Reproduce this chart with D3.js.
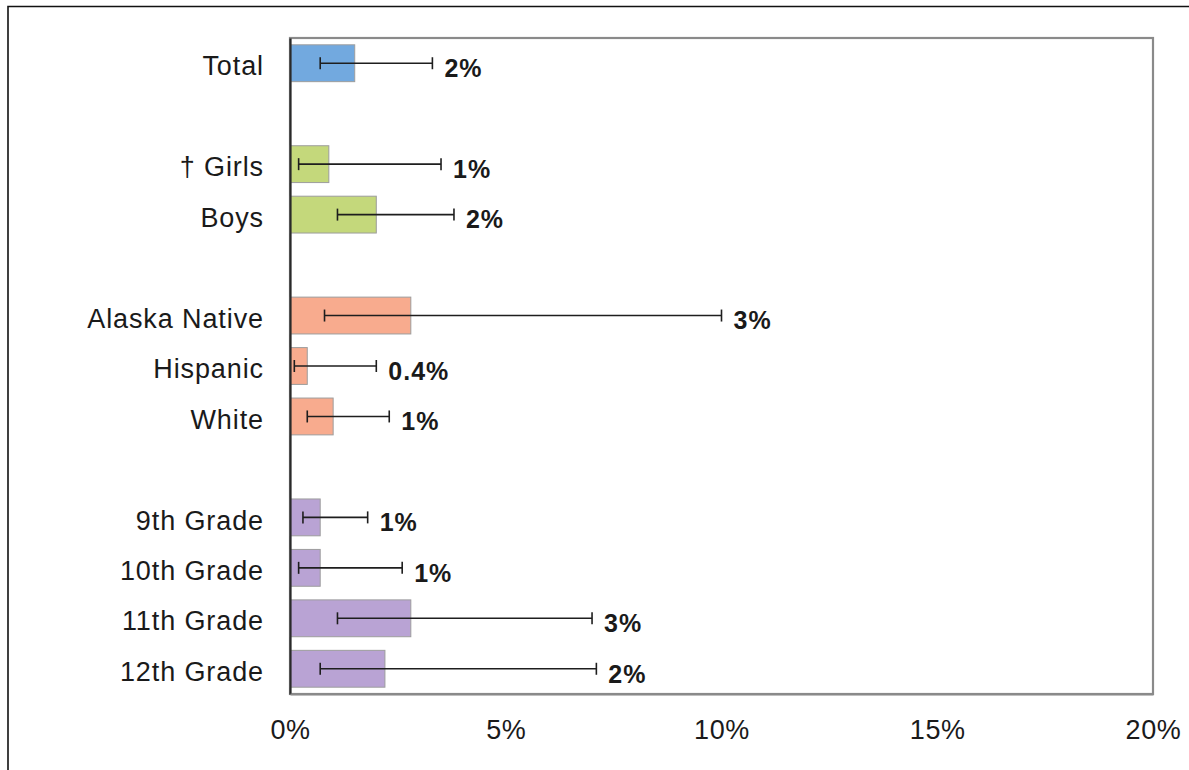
<!DOCTYPE html>
<html>
<head>
<meta charset="utf-8">
<script src="https://cdn.jsdelivr.net/npm/d3@7"></script>
<style>
  html, body { margin: 0; padding: 0; background: #fff; }
  svg { display: block; }
  text { font-family: "Liberation Sans", Arial, sans-serif; fill: #1a1a1a; }
</style>
</head>
<body>
<svg id="chart" width="1189" height="770"></svg>
<script>
// ---- data ----
const slots = ["Total", "gap1", "† Girls", "Boys", "gap2", "Alaska Native", "Hispanic", "White", "gap3", "9th Grade", "10th Grade", "11th Grade", "12th Grade"];
const categories = ["Total", "† Girls", "Boys", "Alaska Native", "Hispanic", "White", "9th Grade", "10th Grade", "11th Grade", "12th Grade"];
const groups = ["total", "sex", "sex", "race", "race", "race", "grade", "grade", "grade", "grade"];
const values = [1.5, 0.9, 2.0, 2.8, 0.4, 1.0, 0.7, 0.7, 2.8, 2.2];
const lower = [0.7, 0.2, 1.1, 0.8, 0.1, 0.4, 0.3, 0.2, 1.1, 0.7];
const upper = [3.3, 3.5, 3.8, 10.0, 2.0, 2.3, 1.8, 2.6, 7.0, 7.1];
const labels = ["2%", "1%", "2%", "3%", "0.4%", "1%", "1%", "1%", "3%", "2%"];
const xTicks = [0, 5, 10, 15, 20];
const groupNames = ["total", "sex", "race", "grade"];
const groupColors = ["#72a9df", "#c4d87b", "#f8ab8e", "#b9a3d4"];

// ---- layout ----
const svg = d3.select("#chart");
const mLeft = 290, mRight = 1153, mTop = 38, mBottom = 694;

svg.append("rect").attr("width", 1189).attr("height", 770).attr("fill", "#fff");
// outer chart border (top + left visible)
svg.append("path").attr("d", "M8,770V6.5H1189").attr("fill", "none").attr("stroke", "#111").attr("stroke-width", 1.6);

const x = d3.scaleLinear().domain([0, 20]).range([mLeft, mRight]);
const y = d3.scaleBand().domain(slots).range([mTop, mBottom]).paddingInner(0.27).paddingOuter(0.135);
const color = d3.scaleOrdinal().domain(groupNames).range(groupColors);

// plot frame
svg.append("rect").attr("x", mLeft).attr("y", mTop).attr("width", mRight - mLeft).attr("height", mBottom - mTop)
  .attr("fill", "none").attr("stroke", "#8a8a8a").attr("stroke-width", 2.2);

const rows = categories.map((c, i) => ({ c, v: values[i], lo: lower[i], hi: upper[i], lab: labels[i], g: groups[i] }));

// bars
svg.append("g").selectAll("rect").data(rows).join("rect")
  .attr("x", x(0)).attr("y", d => y(d.c))
  .attr("width", d => x(d.v) - x(0)).attr("height", y.bandwidth())
  .attr("fill", d => color(d.g)).attr("stroke", "#9d9d9d").attr("stroke-width", 1);

// error bars
const eb = svg.append("g").attr("stroke", "#1e1e1e").attr("stroke-width", 1.6).attr("fill", "none");
rows.forEach(d => {
  const cy = y(d.c) + y.bandwidth() / 2;
  eb.append("line").attr("x1", x(d.lo)).attr("x2", x(d.hi)).attr("y1", cy).attr("y2", cy);
  eb.append("line").attr("x1", x(d.lo)).attr("x2", x(d.lo)).attr("y1", cy - 6).attr("y2", cy + 6);
  eb.append("line").attr("x1", x(d.hi)).attr("x2", x(d.hi)).attr("y1", cy - 6).attr("y2", cy + 6);
});

// data labels
svg.append("g").selectAll("text").data(rows).join("text")
  .attr("x", d => x(d.hi) + 12)
  .attr("y", d => y(d.c) + y.bandwidth() / 2 + 5)
  .attr("dy", "0.35em")
  .attr("font-size", 25).attr("font-weight", "bold")
  .attr("letter-spacing", "1px")
  .attr("fill", "#111")
  .text(d => d.lab);

// left axis (category labels)
const yAxis = svg.append("g").attr("transform", `translate(${mLeft},0)`)
  .call(d3.axisLeft(y).tickValues(categories).tickSize(0).tickPadding(26));
yAxis.select(".domain").attr("stroke", "#2a2a2a").attr("stroke-width", 2.2);
yAxis.selectAll("text").attr("font-size", 27).attr("font-family", "Liberation Sans, Arial, sans-serif")
  .attr("fill", "#141414").attr("letter-spacing", "0.9px").attr("dy", "0.45em");

// bottom axis
const xAxis = svg.append("g").attr("transform", `translate(0,${mBottom})`)
  .call(d3.axisBottom(x).tickValues(xTicks).tickFormat(d => d + "%").tickSize(0).tickPadding(26));
xAxis.select(".domain").attr("stroke", "#8a8a8a").attr("stroke-width", 2.2);
xAxis.selectAll("text").attr("font-size", 27).attr("font-family", "Liberation Sans, Arial, sans-serif")
  .attr("fill", "#141414").attr("letter-spacing", "0.6px");
</script>
</body>
</html>
